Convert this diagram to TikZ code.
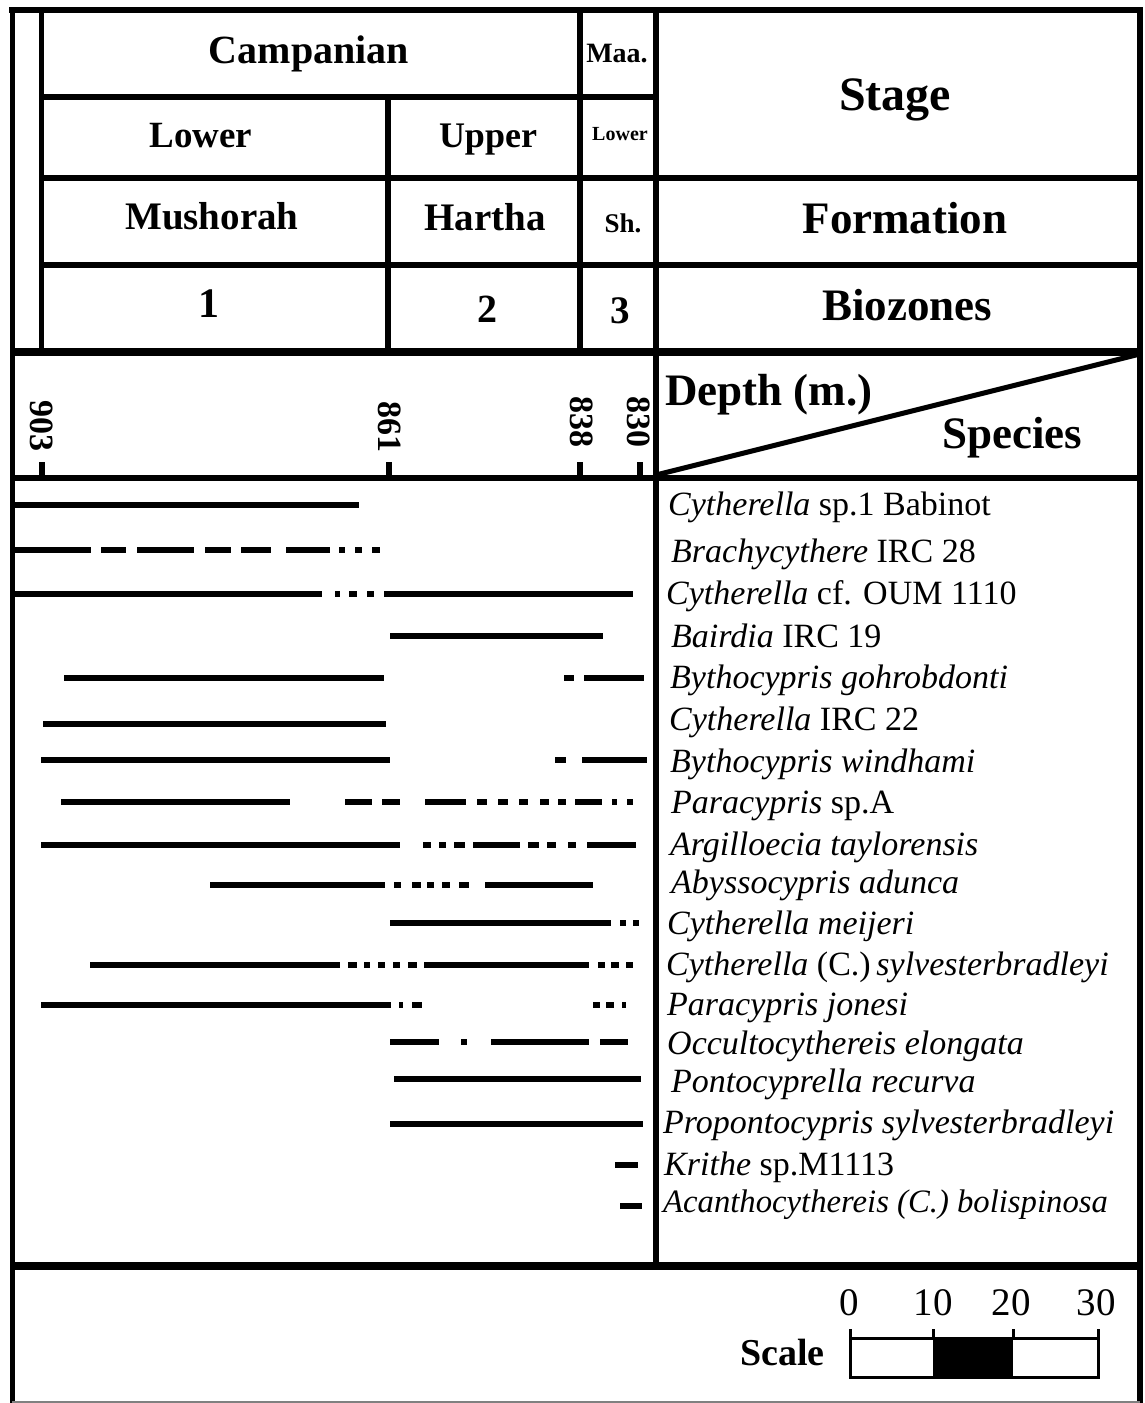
\documentclass[tikz,border=0pt]{standalone}
\usepackage{fontspec}
\setmainfont{Liberation Serif}
\newcommand\rangerow[2]{\foreach \aa/\bb in {#2}{\draw[rangeline] (\aa,#1) -- (\bb,#1);}}
\begin{document}
\begin{tikzpicture}[x=1pt,y=-1pt,
  gridline/.style={line width=6pt},
  thickgrid/.style={line width=8pt},
  rangeline/.style={line width=6pt},
  hd/.style={inner sep=0pt, anchor=base, font=\bfseries\fontsize{#1}{#1}\selectfont},
  hd/.default=40,
  sp/.style={inner sep=0pt, anchor=base west, font=\fontsize{34}{40}\selectfont},
  dep/.style={inner sep=0pt, rotate=-90, font=\bfseries\fontsize{34}{34}\selectfont},
  tickmark/.style={line width=6pt},
  scl/.style={inner sep=0pt, anchor=base, font=\fontsize{39}{39}\selectfont},
]
\useasboundingbox (0,0) rectangle (1144,1403);
\fill[white] (0,0) rectangle (1144,1403);

% outer frame
\draw[line width=5pt] (12,7) -- (12,1403);
\draw[gridline] (9,10) -- (1143,10);
\draw[gridline] (1140,7) -- (1140,1403);
\draw[line width=1.5pt, gray] (12,1402) -- (1140,1402);

% header grid
\draw[line width=5pt] (41,10) -- (41,352);
\draw[gridline] (41,97) -- (655,97);
\draw[gridline] (41,178) -- (1140,178);
\draw[gridline] (41,265) -- (1140,265);
\draw[thickgrid] (12,352) -- (1140,352);
\draw[gridline] (12,478) -- (1140,478);
\draw[gridline] (388,97) -- (388,352);
\draw[gridline] (580,7) -- (580,352);
\draw[gridline] (656,10) -- (656,1265);
\draw[thickgrid] (12,1266) -- (1140,1266);
\draw[line width=5pt] (656,475) -- (1140,354);

% header texts
\node[hd=40] (campanian) at (309,63) {Campanian};
\node[hd=28] (maa) at (617,62) {Maa.};
\node[hd=37] (lower) at (201,147) {Lower};
\node[hd=36] (upper) at (488,147) {Upper};
\node[hd=20] (lowers) at (620,140) {Lower};
\node[hd=39] (mushorah) at (212,229) {Mushorah};
\node[hd=39] (hartha) at (485,230) {Hartha};
\node[hd=27] (sh) at (623,232) {Sh.};
\node[hd=42] (z1) at (209,317) {1};
\node[hd=40] (z2) at (487,322) {2};
\node[hd=39] (z3) at (620,323) {3};
\node[hd=48] (stage) at (895,110) {Stage};
\node[hd=45] (formation) at (905,233) {Formation};
\node[hd=45] (biozones) at (907,320) {Biozones};
\node[hd=45, anchor=base west] (depth) at (665,405) {Depth (m.)};
\node[hd=45, anchor=base west] (species) at (942,448) {Species};

% depth ticks and labels
\foreach \xx in {42,389,580,640} {\draw[tickmark] (\xx,462) -- (\xx,478);}
\node[dep] (d903) at (42,426) {903};
\node[dep] (d861) at (390,427) {861};
\node[dep] (d838) at (582,422) {838};
\node[dep] (d830) at (639,422) {830};

% range lines
\rangerow{505}{15/359}
\rangerow{550}{15/91,101/126,137/194,205/231,241/271,286/330,339/345,355/362,372/380}
\rangerow{594}{15/322,335/340,349/357,367/374,384/633}
\rangerow{636}{390/603}
\rangerow{678}{64/384,564/574,584/644}
\rangerow{724}{43/386}
\rangerow{760}{41/390,555/566,582/647}
\rangerow{802}{61/290,345/372,382/400,425/466,477/487,498/508,519/528,540/549,558/566,575/602,612/617,627/633}
\rangerow{845}{41/400,423/431,439/446,454/465,473/520,528/539,547/556,568/576,587/636}
\rangerow{885}{210/385,394/401,412/421,427/434,442/450,459/469,485/593}
\rangerow{923}{390/611,620/626,633/639}
\rangerow{965}{90/340,348/357,364/370,378/385,393/400,408/417,424/589,598/605,611/619,626/633}
\rangerow{1005}{41/391,399/403,412/422,593/600,606/614,622/626}
\rangerow{1042}{390/439,461/467,491/589,600/628}
\rangerow{1079}{394/641}
\rangerow{1124}{390/643}
\rangerow{1165}{615/638}
\rangerow{1206}{620/642}

% species names
\node[sp] (s1) at (668,515) {\textit{Cytherella} sp.1 Babinot};
\node[sp] (s2) at (671,562) {\textit{Brachycythere} IRC 28};
\node[sp] (s3) at (666,604) {\textit{Cytherella} cf. OUM 1110};
\node[sp] (s4) at (671,647) {\textit{Bairdia} IRC 19};
\node[sp] (s5) at (670,688) {\textit{Bythocypris gohrobdonti}};
\node[sp] (s6) at (669,730) {\textit{Cytherella} IRC 22};
\node[sp] (s7) at (670,772) {\textit{Bythocypris windhami}};
\node[sp] (s8) at (671,813) {\textit{Paracypris} sp.A};
\node[sp] (s9) at (670,855) {\textit{Argilloecia taylorensis}};
\node[sp] (s10) at (671,893) {\textit{Abyssocypris adunca}};
\node[sp] (s11) at (667,934) {\textit{Cytherella meijeri}};
\node[sp] (s12) at (666,975) {\textit{Cytherella} (C.)\,\textit{sylvesterbradleyi}};
\node[sp] (s13) at (667,1015) {\textit{Paracypris jonesi}};
\node[sp] (s14) at (667,1054) {\textit{Occultocythereis elongata}};
\node[sp] (s15) at (671,1092) {\textit{Pontocyprella recurva}};
\node[sp] (s16) at (663,1133) {\textit{Propontocypris sylvesterbradleyi}};
\node[sp] (s17) at (664,1175) {\textit{Krithe} sp.M1113};
\node[sp, font=\fontsize{32.7}{40}\selectfont] (s18) at (663,1212) {\textit{Acanthocythereis (C.) bolispinosa}};

% scale bar
\node[hd=38, anchor=base east] (scalelbl) at (825,1365) {Scale};
\node[scl] (n0) at (849,1315) {0};
\node[scl] (n10) at (933,1315) {10};
\node[scl] (n20) at (1011,1315) {20};
\node[scl] (n30) at (1096,1315) {30};
\fill[black] (933,1338) rectangle (1013,1377);
\draw[line width=3pt] (850,1338) rectangle (1098,1377);
\foreach \xx in {850,933,1013,1098} {\draw[line width=3pt] (\xx,1329) -- (\xx,1338);}
\end{tikzpicture}
\end{document}
